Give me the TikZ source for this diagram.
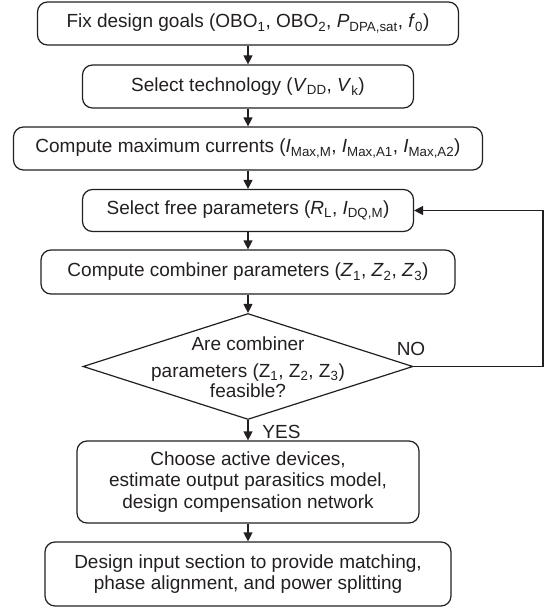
\documentclass[tikz,border=0pt]{standalone}
\usepackage{fontspec}
\setmainfont{Liberation Sans}
\usetikzlibrary{arrows.meta,shapes.geometric}
\definecolor{ink}{HTML}{231F20}
\newcommand\sbs[1]{\textsubscript{#1}}
\newcommand\iv[1]{\textit{#1}}
\begin{document}
\begin{tikzpicture}[x=1pt,y=-1pt,
  every node/.style={font=\fontsize{19}{21.5}\selectfont, text=ink},
  stepbox/.style={draw=ink, line width=1.2pt, rounded corners=10pt,
    inner sep=0pt, align=center},
  qline/.style={anchor=base, inner sep=0pt},
  flow/.style={draw=ink, line width=1.2pt, -{Triangle[length=9pt,width=9pt]}},
]
\useasboundingbox (0,0) rectangle (546,610);

% process steps
\node[stepbox, minimum width=421pt, minimum height=43pt] (goals) at (248,23.5)
  {Fix design goals (OBO\sbs{1}, OBO\sbs{2}, \iv{P}\sbs{DPA,sat}, \iv{f}\sbs{0})};
\node[stepbox, minimum width=331pt, minimum height=43pt] (tech) at (248,86.5)
  {Select technology (\iv{V}\sbs{DD}, \iv{V}\sbs{k})};
\node[stepbox, minimum width=469pt, minimum height=43pt] (curr) at (248,148.5)
  {Compute maximum currents (\iv{I}\sbs{Max,M}, \iv{I}\sbs{Max,A1}, \iv{I}\sbs{Max,A2})};
\node[stepbox, minimum width=331pt, minimum height=42pt] (free) at (248,210.5)
  {Select free parameters (\iv{R}\sbs{L}, \iv{I}\sbs{DQ,M})};
\node[stepbox, minimum width=414pt, minimum height=44pt] (comb) at (248,272)
  {Compute combiner parameters (\iv{Z}\sbs{1}, \iv{Z}\sbs{2}, \iv{Z}\sbs{3})};

% feasibility check
\node[diamond, draw=ink, line width=1.2pt, inner sep=0pt,
  minimum width=330pt, minimum height=106pt] (check) at (248,366.5) {};
\node[qline] (q1) at (248,350) {Are combiner};
\node[qline] (q2) at (248,377.5) {parameters (Z\sbs{1}, Z\sbs{2}, Z\sbs{3})};
\node[qline] (q3) at (248,397.5) {feasible?};

\node[stepbox, minimum width=342pt, minimum height=82pt] (dev) at (248,482)
  {Choose active devices,\\ estimate output parasitics model,\\ design compensation network};
\node[stepbox, minimum width=406pt, minimum height=64pt] (inp) at (248,574)
  {Design input section to provide matching,\\ phase alignment, and power splitting};

% connectors
\draw[flow] (goals) -- (tech);
\draw[flow] (tech) -- (curr);
\draw[flow] (curr) -- (free);
\draw[flow] (free) -- (comb);
\draw[flow] (comb) -- (check);
\draw[flow] (check) -- (dev);
\draw[flow] (dev) -- (inp);

\coordinate (loop) at (543,0);
\draw[flow] (check.east) -- (check.east -| loop) -- (loop |- free.east) -- (free.east);

\node[anchor=base] (no) at (411,355.5) {NO};
\node[anchor=base] (yes) at (281.5,438) {YES};
\end{tikzpicture}
\end{document}
